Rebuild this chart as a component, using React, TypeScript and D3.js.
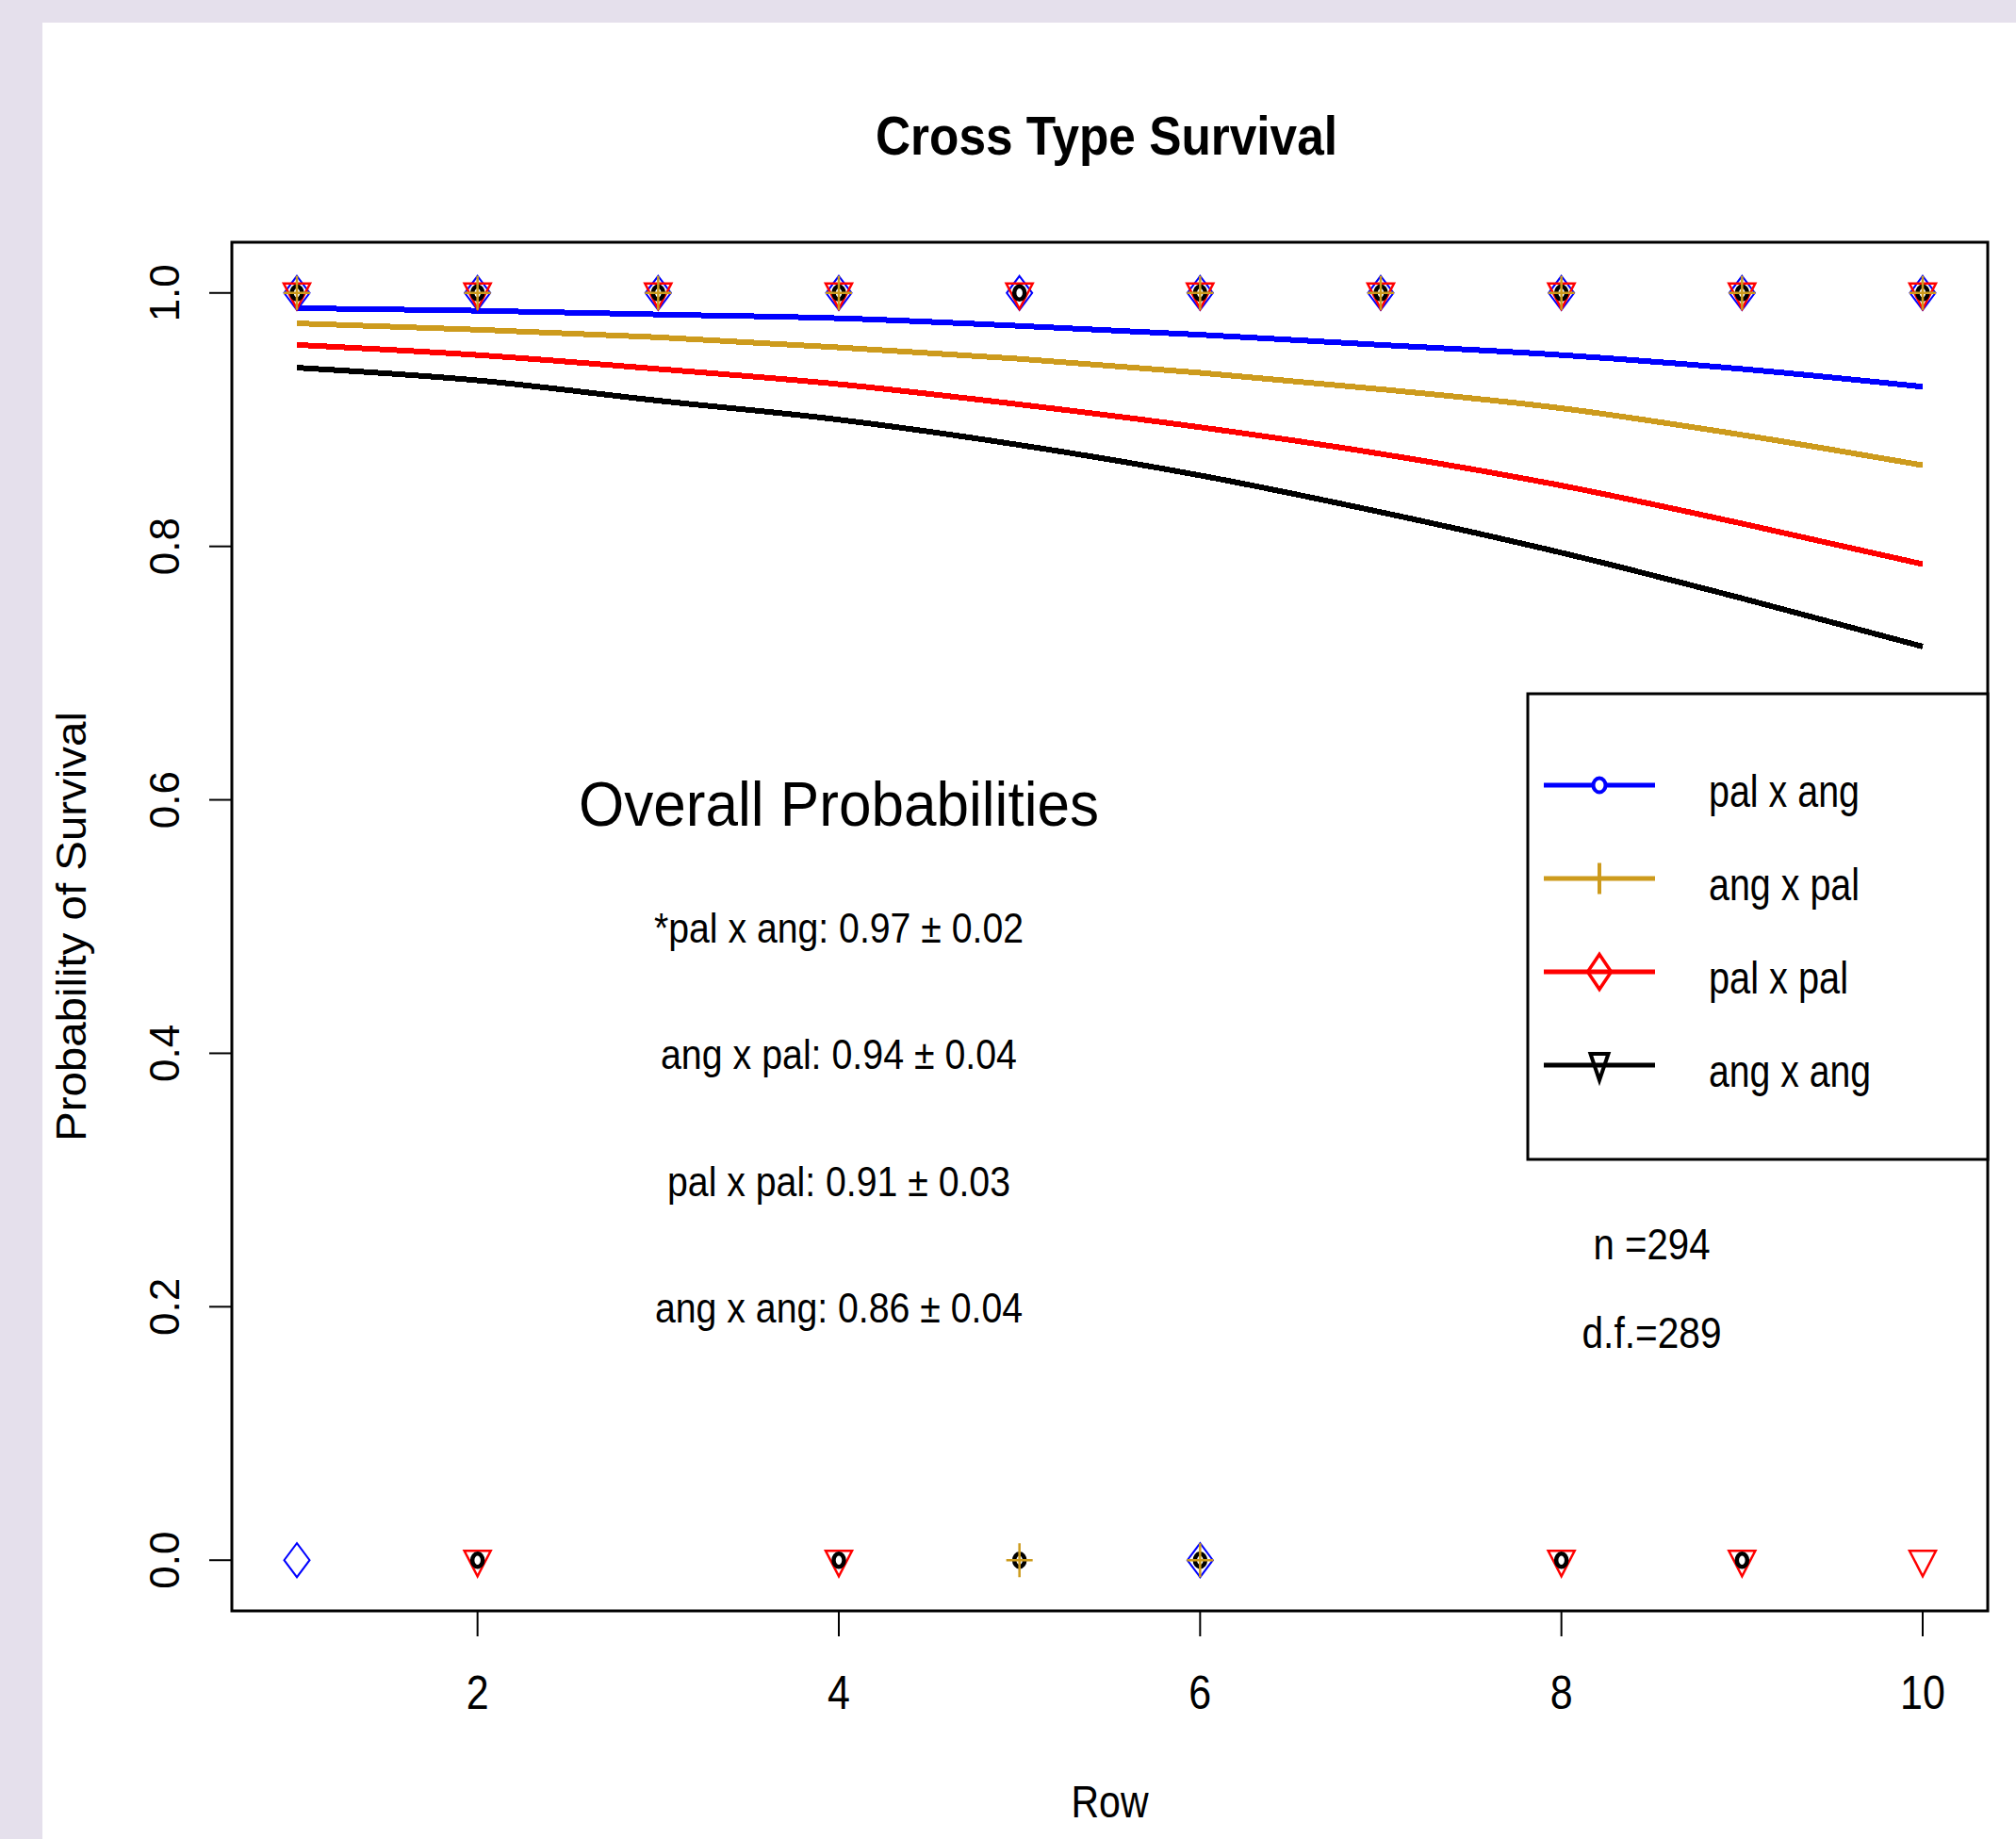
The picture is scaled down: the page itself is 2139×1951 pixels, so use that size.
import React, { useEffect, useRef } from 'react';
import * as d3 from 'd3';

// rows on the x axis
const rows = [1, 2, 3, 4, 5, 6, 7, 8, 9, 10];

// fitted survival curves
const palXang = [0.988, 0.986, 0.983, 0.980, 0.974, 0.967, 0.959, 0.951, 0.940, 0.926];
const angXpal = [0.976, 0.971, 0.965, 0.957, 0.948, 0.937, 0.924, 0.909, 0.888, 0.864];
const palXpal = [0.959, 0.951, 0.940, 0.928, 0.912, 0.894, 0.873, 0.848, 0.818, 0.786];
const angXang = [0.941, 0.931, 0.915, 0.900, 0.880, 0.856, 0.827, 0.795, 0.759, 0.721];

// observed outcomes (1 = survived, 0 = died) per row
const palXangAlive = [1, 2, 3, 4, 5, 6, 7, 8, 9, 10];
const palXangDead = [1, 6];
const angXpalAlive = [1, 2, 3, 4, 6, 7, 8, 9, 10];
const angXpalDead = [5, 6];
const palXpalAlive = [1, 2, 3, 4, 5, 6, 7, 8, 9, 10];
const palXpalDead = [2, 4, 8, 9, 10];
const angXangAlive = [1, 2, 3, 4, 5, 6, 7, 8, 9, 10];
const angXangDead = [2, 4, 5, 6, 8, 9];

const seriesNames = ['pal x ang', 'ang x pal', 'pal x pal', 'ang x ang'];
const seriesColors = ['#0000ff', '#cd9b1d', '#ff0000', '#000000'];

const xTicks = [2, 4, 6, 8, 10];
const yTicks = [0, 0.2, 0.4, 0.6, 0.8, 1.0];

const overallLines = [
  '*pal x ang: 0.97 \u00b1 0.02',
  'ang x pal: 0.94 \u00b1 0.04',
  'pal x pal: 0.91 \u00b1 0.03',
  'ang x ang: 0.86 \u00b1 0.04',
];
const overallY = [0.5, 0.4, 0.3, 0.2];
const overallWidths = [392, 378, 364, 390];

const W = 2139, H = 1951;
const FONT = '"Liberation Sans", Arial, sans-serif';

function App() {
  const ref = useRef<SVGSVGElement | null>(null);

  useEffect(() => {
    const svg = d3.select(ref.current);
    svg.selectAll('*').remove();

    const left = 246, right = 2109, top = 257, bottom = 1709;

    const x = d3.scaleLinear().domain([0.64, 10.36]).range([left, right]);
    const y = d3.scaleLinear().domain([-0.04, 1.04]).range([bottom, top]);

    // page background + white panel
    svg.append('rect').attr('width', W).attr('height', H).attr('fill', '#e5e0ec');
    svg.append('rect').attr('x', 45).attr('y', 24).attr('width', W - 45).attr('height', H - 24).attr('fill', '#ffffff');

    // title
    svg.append('text')
      .attr('x', 1174).attr('y', 164)
      .attr('text-anchor', 'middle')
      .attr('font-family', FONT).attr('font-weight', 'bold').attr('font-size', 58)
      .attr('textLength', 490).attr('lengthAdjust', 'spacingAndGlyphs')
      .text('Cross Type Survival');

    // curves
    const curves = [palXang, angXpal, palXpal, angXang];
    const line = d3.line<number>()
      .x((d, i) => x(rows[i]))
      .y(d => y(d))
      .curve(d3.curveMonotoneX);

    curves.forEach((vals, i) => {
      svg.append('path')
        .datum(vals)
        .attr('d', line)
        .attr('fill', 'none')
        .attr('stroke', seriesColors[i])
        .attr('stroke-width', 6)
        .attr('shape-rendering', 'crispEdges');
    });

    // point markers
    const marker = (g: any, shape: string, cx: number, cy: number, color: string) => {
      if (shape === 'diamond') {
        g.append('path')
          .attr('d', `M${cx},${cy - 18}L${cx + 13.5},${cy}L${cx},${cy + 18}L${cx - 13.5},${cy}Z`)
          .attr('fill', 'none').attr('stroke', color).attr('stroke-width', 2);
      } else if (shape === 'triDown') {
        g.append('path')
          .attr('d', `M${cx - 14},${cy - 10}L${cx + 14},${cy - 10}L${cx},${cy + 17}Z`)
          .attr('fill', 'none').attr('stroke', color).attr('stroke-width', 2.5);
      } else if (shape === 'ring') {
        g.append('ellipse')
          .attr('cx', cx).attr('cy', cy).attr('rx', 5.5).attr('ry', 7)
          .attr('fill', 'none').attr('stroke', color).attr('stroke-width', 4.5);
      } else if (shape === 'plus') {
        g.append('path')
          .attr('d', `M${cx - 14},${cy}H${cx + 14}M${cx},${cy - 18}V${cy + 18}`)
          .attr('fill', 'none').attr('stroke', color).attr('stroke-width', 2.5);
      }
    };

    const pts = svg.append('g');
    const pointSets = [
      { alive: palXangAlive, dead: palXangDead, shape: 'diamond', color: seriesColors[0] },
      { alive: palXpalAlive, dead: palXpalDead, shape: 'triDown', color: seriesColors[2] },
      { alive: angXangAlive, dead: angXangDead, shape: 'ring', color: seriesColors[3] },
      { alive: angXpalAlive, dead: angXpalDead, shape: 'plus', color: seriesColors[1] },
    ];
    pointSets.forEach(s => {
      s.alive.forEach(r => marker(pts, s.shape, x(r), y(1), s.color));
      s.dead.forEach(r => marker(pts, s.shape, x(r), y(0), s.color));
    });

    // frame
    svg.append('rect')
      .attr('x', left).attr('y', top)
      .attr('width', right - left).attr('height', bottom - top)
      .attr('fill', 'none').attr('stroke', '#000').attr('stroke-width', 3);

    // x axis
    const xa = svg.append('g');
    xTicks.forEach(t => {
      xa.append('line')
        .attr('x1', x(t)).attr('x2', x(t)).attr('y1', bottom).attr('y2', bottom + 27)
        .attr('stroke', '#000').attr('stroke-width', 2);
      xa.append('text')
        .attr('x', x(t)).attr('y', 1813)
        .attr('text-anchor', 'middle')
        .attr('font-family', FONT).attr('font-size', 50)
        .attr('transform', `translate(${x(t)},0) scale(0.86,1) translate(${-x(t)},0)`)
        .text(String(t));
    });
    svg.append('text')
      .attr('x', (left + right) / 2).attr('y', 1928)
      .attr('text-anchor', 'middle')
      .attr('font-family', FONT).attr('font-size', 49)
      .attr('textLength', 82).attr('lengthAdjust', 'spacingAndGlyphs')
      .text('Row');

    // y axis
    const ya = svg.append('g');
    yTicks.forEach(t => {
      ya.append('line')
        .attr('x1', left - 24).attr('x2', left).attr('y1', y(t)).attr('y2', y(t))
        .attr('stroke', '#000').attr('stroke-width', 2);
      ya.append('text')
        .attr('transform', `translate(190,${y(t)}) rotate(-90)`)
        .attr('text-anchor', 'middle')
        .attr('font-family', FONT).attr('font-size', 44)
        .text(t.toFixed(1));
    });
    svg.append('text')
      .attr('transform', `translate(91,${(top + bottom) / 2}) rotate(-90)`)
      .attr('text-anchor', 'middle')
      .attr('font-family', FONT).attr('font-size', 45)
      .attr('textLength', 456).attr('lengthAdjust', 'spacingAndGlyphs')
      .text('Probability of Survival');

    // overall probabilities annotation
    svg.append('text')
      .attr('x', x(4)).attr('y', y(0.6)).attr('dy', '0.42em')
      .attr('text-anchor', 'middle')
      .attr('font-family', FONT).attr('font-size', 66)
      .attr('textLength', 552).attr('lengthAdjust', 'spacingAndGlyphs')
      .text('Overall Probabilities');
    overallLines.forEach((t, i) => {
      svg.append('text')
        .attr('x', x(4)).attr('y', y(overallY[i])).attr('dy', '0.38em')
        .attr('text-anchor', 'middle')
        .attr('font-family', FONT).attr('font-size', 44)
        .attr('textLength', overallWidths[i]).attr('lengthAdjust', 'spacingAndGlyphs')
        .text(t);
    });

    // n and d.f.
    svg.append('text')
      .attr('x', x(8.5)).attr('y', y(0.25)).attr('dy', '0.35em')
      .attr('text-anchor', 'middle')
      .attr('font-family', FONT).attr('font-size', 47)
      .attr('textLength', 124).attr('lengthAdjust', 'spacingAndGlyphs')
      .text('n =294');
    svg.append('text')
      .attr('x', x(8.5)).attr('y', y(0.18)).attr('dy', '0.35em')
      .attr('text-anchor', 'middle')
      .attr('font-family', FONT).attr('font-size', 47)
      .attr('textLength', 148).attr('lengthAdjust', 'spacingAndGlyphs')
      .text('d.f.=289');

    // legend
    const lg = svg.append('g');
    lg.append('rect')
      .attr('x', 1621).attr('y', 736).attr('width', right - 1621).attr('height', 494)
      .attr('fill', '#fff').attr('stroke', '#000').attr('stroke-width', 3);
    const legendWidths = [160, 160, 148, 172];
    seriesNames.forEach((name, i) => {
      const cy = 833 + i * 99;
      const c = seriesColors[i];
      lg.append('line')
        .attr('x1', 1638).attr('x2', 1756).attr('y1', cy).attr('y2', cy)
        .attr('stroke', c).attr('stroke-width', 5);
      const mx = 1697;
      if (i === 0) {
        lg.append('ellipse').attr('cx', mx).attr('cy', cy).attr('rx', 6.5).attr('ry', 7.5)
          .attr('fill', '#fff').attr('stroke', c).attr('stroke-width', 4);
      } else if (i === 1) {
        lg.append('line').attr('x1', mx).attr('x2', mx).attr('y1', cy - 16.5).attr('y2', cy + 16.5)
          .attr('stroke', c).attr('stroke-width', 4);
      } else if (i === 2) {
        lg.append('path')
          .attr('d', `M${mx},${cy - 18.5}L${mx + 12.5},${cy}L${mx},${cy + 18.5}L${mx - 12.5},${cy}Z`)
          .attr('fill', 'none').attr('stroke', c).attr('stroke-width', 3.5);
      } else {
        lg.append('path')
          .attr('d', `M${mx - 9.5},${cy - 12}L${mx + 9.5},${cy - 12}L${mx},${cy + 16}Z`)
          .attr('fill', 'none').attr('stroke', c).attr('stroke-width', 4);
      }
      lg.append('text')
        .attr('x', 1813).attr('y', cy + 23)
        .attr('font-family', FONT).attr('font-size', 48)
        .attr('textLength', legendWidths[i]).attr('lengthAdjust', 'spacingAndGlyphs')
        .text(name);
    });
  }, []);

  return (
    <svg
      ref={ref}
      width={W}
      height={H}
      style={{ position: 'absolute', left: 0, top: 0, display: 'block' }}
    />
  );
}

export default App;
